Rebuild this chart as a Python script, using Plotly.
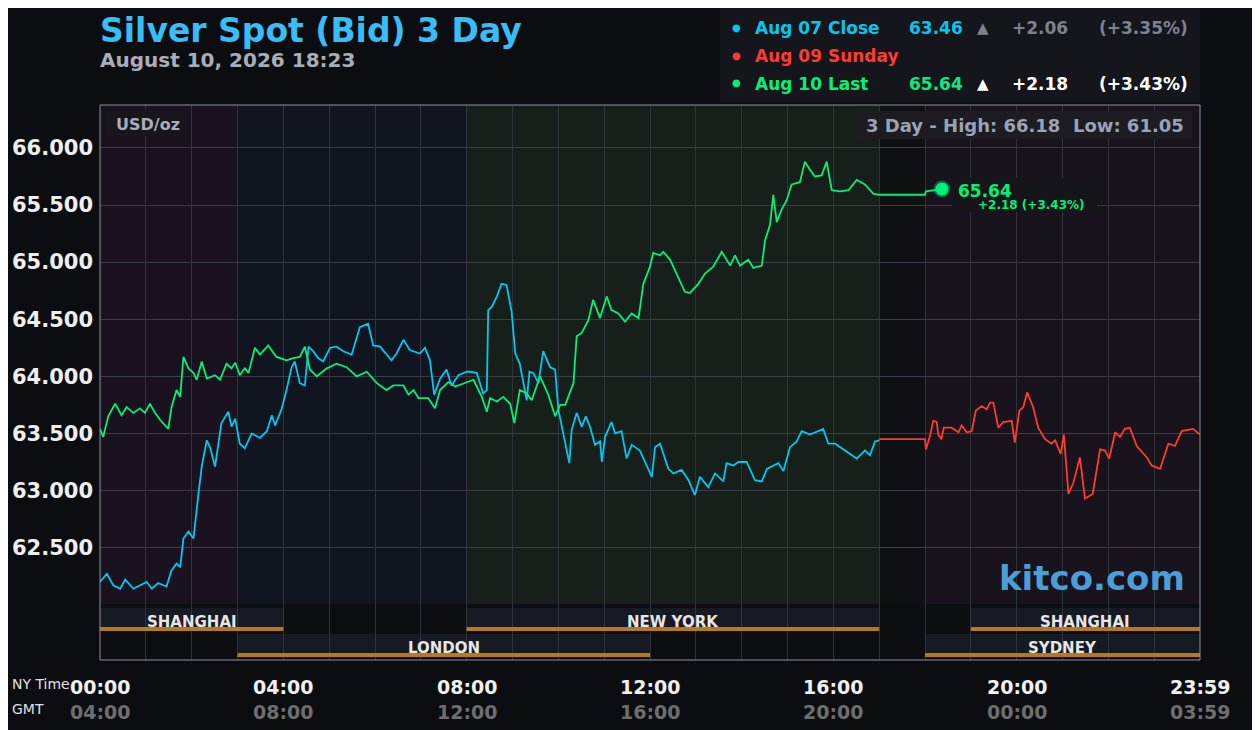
import plotly.graph_objects as go

# ---- data (hours NY time, price USD/oz) ----
blue_t = [0, .15, .29, .44, .55, .73, 1.02, 1.13, 1.27, 1.45, 1.56, 1.67, 1.75, 1.82, 1.93, 2.04, 2.15, 2.22, 2.33, 2.40, 2.51,
          2.65, 2.80, 2.87, 2.95, 3.05, 3.16, 3.31, 3.49, 3.64, 3.75, 3.82, 3.96, 4.07, 4.18, 4.25, 4.36, 4.47, 4.55, 4.65,
          4.76, 4.87, 5.02, 5.16, 5.31, 5.49, 5.67, 5.85, 5.96, 6.11, 6.36, 6.47, 6.62, 6.76, 6.98, 7.09, 7.20, 7.29, 7.42,
          7.56, 7.67, 7.82, 8.00, 8.07, 8.22, 8.36, 8.44, 8.47, 8.55, 8.66, 8.76, 8.87, 8.98, 9.06, 9.16, 9.24, 9.31, 9.37,
          9.455, 9.565, 9.67, 9.82, 9.93, 10.0, 10.11, 10.24, 10.29, 10.40, 10.51, 10.60, 10.69, 10.80, 10.91, 10.95, 11.02,
          11.16, 11.24, 11.38, 11.49, 11.60, 11.78, 11.89, 12.04, 12.11, 12.22, 12.40, 12.51, 12.69, 12.84, 12.98, 13.09,
          13.27, 13.42, 13.6, 13.67, 13.82, 13.93, 14.11, 14.29, 14.44, 14.55, 14.80, 14.91, 15.055, 15.20, 15.31, 15.49,
          15.78, 15.89, 16.04, 16.29, 16.51, 16.69, 16.80, 16.91, 17.0]
blue_p = [62.20, 62.27, 62.17, 62.14, 62.22, 62.14, 62.20, 62.14, 62.19, 62.16, 62.30, 62.36, 62.33, 62.58, 62.64, 62.58, 62.98,
          63.21, 63.44, 63.38, 63.21, 63.59, 63.69, 63.56, 63.63, 63.41, 63.37, 63.50, 63.46, 63.52, 63.66, 63.57, 63.71,
          63.88, 64.08, 64.13, 63.94, 63.92, 64.26, 64.22, 64.16, 64.13, 64.25, 64.26, 64.22, 64.19, 64.43, 64.46, 64.27,
          64.26, 64.14, 64.20, 64.32, 64.23, 64.20, 64.25, 64.14, 63.84, 63.98, 64.06, 63.92, 64.01, 64.04, 64.04, 64.03,
          63.85, 63.88, 64.58, 64.61, 64.70, 64.81, 64.80, 64.57, 64.20, 64.11, 63.94, 63.79, 64.04, 64.03, 63.94, 64.22,
          64.08, 64.06, 63.71, 63.49, 63.24, 63.53, 63.68, 63.56, 63.65, 63.56, 63.40, 63.43, 63.25, 63.47, 63.60, 63.50,
          63.52, 63.28, 63.40, 63.35, 63.25, 63.12, 63.38, 63.41, 63.19, 63.15, 63.18, 63.09, 62.96, 63.12, 63.03, 63.15,
          63.08, 63.24, 63.22, 63.25, 63.25, 63.09, 63.08, 63.19, 63.24, 63.17, 63.38, 63.43, 63.52, 63.49, 63.54, 63.41,
          63.41, 63.34, 63.28, 63.35, 63.31, 63.43, 63.44]

green_t = [0, .07, .18, .33, .47, .58, .73, .87, .98, 1.09, 1.20, 1.31, 1.49, 1.56, 1.67, 1.75, 1.82, 1.93, 2.04, 2.11, 2.22,
           2.33, 2.51, 2.62, 2.76, 2.87, 2.95, 3.05, 3.16, 3.24, 3.38, 3.49, 3.67, 3.85, 4.07, 4.22, 4.36, 4.47, 4.58, 4.73,
           4.95, 5.16, 5.38, 5.60, 5.82, 6.04, 6.25, 6.40, 6.62, 6.73, 6.84, 6.95, 7.16, 7.31, 7.42, 7.60, 7.75, 7.93, 8.15,
           8.33, 8.44, 8.51, 8.66, 8.80, 8.95, 9.04, 9.16, 9.31, 9.42, 9.60, 9.78, 9.93, 10.04, 10.15, 10.33, 10.40, 10.51,
           10.655, 10.76, 10.91, 11.055, 11.16, 11.31, 11.455, 11.60, 11.75, 11.855, 12.0, 12.07, 12.22, 12.29, 12.44,
           12.58, 12.76, 12.87, 13.055, 13.20, 13.38, 13.565, 13.75, 13.855, 13.965, 14.145, 14.255, 14.44, 14.51, 14.62,
           14.69, 14.765, 14.87, 14.98, 15.09, 15.27, 15.38, 15.49, 15.60, 15.745, 15.855, 15.965, 16.145, 16.33, 16.51,
           16.69, 16.87, 17.0, 18.0, 18.02, 18.37]
green_p = [63.54, 63.47, 63.65, 63.76, 63.66, 63.73, 63.68, 63.72, 63.68, 63.76, 63.68, 63.62, 63.54, 63.73, 63.88, 63.82,
           64.17, 64.07, 64.03, 63.97, 64.13, 63.98, 64.01, 63.97, 64.11, 64.07, 64.12, 64.01, 64.07, 64.03, 64.25, 64.19,
           64.27, 64.17, 64.14, 64.16, 64.17, 64.26, 64.06, 64.00, 64.07, 64.11, 64.08, 64.00, 64.04, 63.94, 63.88, 63.92,
           63.92, 63.84, 63.88, 63.81, 63.81, 63.72, 63.88, 63.95, 63.91, 63.94, 63.97, 63.82, 63.69, 63.81, 63.78, 63.82,
           63.76, 63.59, 63.88, 63.85, 63.79, 64.00, 63.84, 63.65, 63.75, 63.75, 63.94, 64.35, 64.38, 64.49, 64.67, 64.51,
           64.70, 64.58, 64.55, 64.48, 64.55, 64.51, 64.81, 64.96, 65.08, 65.06, 65.09, 65.02, 64.90, 64.74, 64.73, 64.81,
           64.90, 64.96, 65.09, 64.97, 65.06, 64.97, 65.02, 64.95, 64.97, 65.19, 65.33, 65.59, 65.35, 65.46, 65.54, 65.68,
           65.70, 65.88, 65.81, 65.75, 65.76, 65.88, 65.63, 65.62, 65.63, 65.72, 65.68, 65.60, 65.59, 65.59, 65.62, 65.64]

red_t = [17.0, 18.0, 18.02, 18.11, 18.18, 18.255, 18.29, 18.36, 18.41, 18.58, 18.73, 18.80, 18.91, 19.02, 19.11, 19.24,
         19.345, 19.42, 19.49, 19.60, 19.71, 19.89, 19.96, 20.06, 20.145, 20.23, 20.36, 20.47, 20.62, 20.76, 20.84, 20.96,
         21.03, 21.13, 21.24, 21.38, 21.49, 21.66, 21.82, 21.93, 22.02, 22.15, 22.255, 22.36, 22.47, 22.62, 22.84, 22.945,
         23.13, 23.31, 23.455, 23.60, 23.85, 24.0]
red_p = [63.45, 63.45, 63.36, 63.48, 63.61, 63.60, 63.49, 63.45, 63.55, 63.55, 63.51, 63.57, 63.51, 63.52, 63.70, 63.74,
         63.71, 63.77, 63.77, 63.55, 63.60, 63.61, 63.42, 63.70, 63.73, 63.86, 63.73, 63.55, 63.45, 63.41, 63.44, 63.32,
         63.49, 62.97, 63.07, 63.29, 62.93, 62.97, 63.36, 63.35, 63.28, 63.51, 63.47, 63.54, 63.55, 63.39, 63.29, 63.22,
         63.19, 63.41, 63.39, 63.52, 63.54, 63.49]

last_t, last_p = 18.37, 65.64
y_ticks = [62.5, 63.0, 63.5, 64.0, 64.5, 65.0, 65.5, 66.0]
x_ticks = [0, 4, 8, 12, 16, 20, 24]
ny_labels = ["00:00", "04:00", "08:00", "12:00", "16:00", "20:00", "23:59"]
gmt_labels = ["04:00", "08:00", "12:00", "16:00", "20:00", "00:00", "03:59"]
bg_sessions = [(0, 3, "#1a131f"), (3, 8, "#11151f"), (8, 17, "#161f19"), (17, 18, "#0e1013"), (18, 24, "#19131e")]
row1 = [(0, 4, "SHANGHAI"), (8, 17, "NEW YORK"), (19, 24, "SHANGHAI")]
row2 = [(3, 12, "LONDON"), (18, 24, "SYDNEY")]

BLUE, GREEN, RED = "#00c8f0", "#00f07a", "#ff3b30"
F = "DejaVu Sans"

def py(Y):  # pixel -> paper y
    return (660 - Y) / 555

def px(X):
    return (X - 100) / 1100

fig = go.Figure()
fig.add_trace(go.Scatter(x=blue_t, y=blue_p, mode="lines", line=dict(color=BLUE, width=1.8)))
fig.add_trace(go.Scatter(x=red_t, y=red_p, mode="lines", line=dict(color=RED, width=1.8)))
fig.add_trace(go.Scatter(x=green_t, y=green_p, mode="lines", line=dict(color=GREEN, width=1.8)))
fig.add_trace(go.Scatter(x=[last_t], y=[last_p], mode="markers",
                         marker=dict(color=GREEN, size=13, line=dict(color="rgba(0,240,122,0.35)", width=4))))

shapes = []
for a, b, c in bg_sessions:
    shapes.append(dict(type="rect", xref="x", yref="paper", x0=a, x1=b, y0=py(604), y1=1, fillcolor=c, line_width=0, layer="below"))
for a, b, _ in row1:
    shapes.append(dict(type="rect", xref="x", yref="paper", x0=a, x1=b, y0=py(631), y1=py(608), fillcolor="#161a22", line_width=0, layer="below"))
    shapes.append(dict(type="rect", xref="x", yref="paper", x0=a, x1=b, y0=py(631), y1=py(627), fillcolor="#b8791a", line_width=0))
for a, b, _ in row2:
    shapes.append(dict(type="rect", xref="x", yref="paper", x0=a, x1=b, y0=py(657), y1=py(634), fillcolor="#161a22", line_width=0, layer="below"))
    shapes.append(dict(type="rect", xref="x", yref="paper", x0=a, x1=b, y0=py(657), y1=py(653), fillcolor="#b8791a", line_width=0))
# text boxes
shapes.append(dict(type="rect", xref="paper", yref="paper", x0=px(720), x1=px(1200), y0=py(102), y1=py(8), fillcolor="#14161b", line_width=0))
shapes.append(dict(type="rect", xref="paper", yref="paper", x0=px(106), x1=px(183), y0=py(136), y1=py(110), fillcolor="#17161d", line_width=0))
shapes.append(dict(type="rect", xref="paper", yref="paper", x0=px(858), x1=px(1192), y0=py(139), y1=py(111), fillcolor="#1c1c22", line_width=0))
shapes.append(dict(type="rect", xref="paper", yref="paper", x0=px(952), x1=px(1097), y0=py(212), y1=py(178), fillcolor="#16161a", line_width=0))
shapes.append(dict(type="rect", xref="paper", yref="paper", x0=0, x1=1, y0=0, y1=1, line=dict(color="#8a93a6", width=1)))

ann = []
def A(x, y, text, size, color, xanchor="left", bold=True, xref="paper"):
    ann.append(dict(x=x, y=y, xref=xref, yref="paper", text=text, showarrow=False, xanchor=xanchor, yanchor="middle",
                    font=dict(family=F, size=size, color=color, weight="bold" if bold else "normal")))

A(px(98), py(30), "Silver Spot (Bid) 3 Day", 33, "#38bdf8")
A(px(98), py(60), "August 10, 2026 18:23", 20, "#a9adb8")
rows = [(28, BLUE, "Aug 07 Close", "63.46", "#7d828e", "+2.06", "(+3.35%)", "#7d828e"),
        (56, RED, "Aug 09 Sunday", None, None, None, None, None),
        (84, GREEN, "Aug 10 Last", "65.64", "#ffffff", "+2.18", "(+3.43%)", "#ffffff")]
for Y, col, lab, val, tri, ch, pct, cc in rows:
    A(px(736), py(Y - 1), "●", 10, col, "center")
    A(px(753), py(Y), lab, 17, col)
    if val:
        A(px(965), py(Y), val, 17, col, "right")
        A(px(983), py(Y), "▲", 15, tri, "center")
        A(px(1070), py(Y), ch, 17, cc, "right")
        A(px(1190), py(Y), pct, 17, cc, "right")
A(px(114), py(125), "USD/oz", 16, "#a9adb8")
A(px(1186), py(126), "3 Day - High: 66.18  Low: 61.05", 18, "#9aa3b5", "right")
A(px(1187), py(578), "kitco.com", 34, "#4a9fd8", "right")
A(px(956), py(191), "65.64", 17, GREEN)
A(px(976), py(205), "+2.18 (+3.43%)", 12, GREEN)
for a, b, t in row1:
    A((a + b) / 2, py(622), t, 15, "#e6e6e6", "center", xref="x")
for a, b, t in row2:
    A((a + b) / 2, py(648), t, 15, "#e6e6e6", "center", xref="x")
for x, n, g in zip(x_ticks, ny_labels, gmt_labels):
    A(x, py(687), n, 19, "#f0f0f0", "center", xref="x")
    A(x, py(712), g, 19, "#6e6e6e", "center", xref="x")
A(px(10), py(684), "NY Time", 14, "#e0e0e0", bold=False)
A(px(10), py(709), "GMT", 14, "#e0e0e0", bold=False)

fig.update_layout(
    width=1260, height=730, margin=dict(l=92, r=68, t=97, b=78, autoexpand=False),
    paper_bgcolor="#0b0d11", plot_bgcolor="#0c0e12", showlegend=False,
    shapes=shapes, annotations=ann,
    xaxis=dict(range=[0, 24], dtick=1, tick0=0, showgrid=True, gridcolor="#30333c", gridwidth=1,
               showticklabels=False, zeroline=False, fixedrange=True, automargin=False),
    yaxis=dict(range=[61.516, 66.376], tickvals=y_ticks, ticktext=[f"{v:.3f}" for v in y_ticks],
               showgrid=True, gridcolor="#3a3d47", gridwidth=1, zeroline=False, ticks="", automargin=False,
               tickfont=dict(family=F, size=21, color="#eeeeee", weight="bold"), ticklabelstandoff=6),
)
fig.write_html("out.html")
